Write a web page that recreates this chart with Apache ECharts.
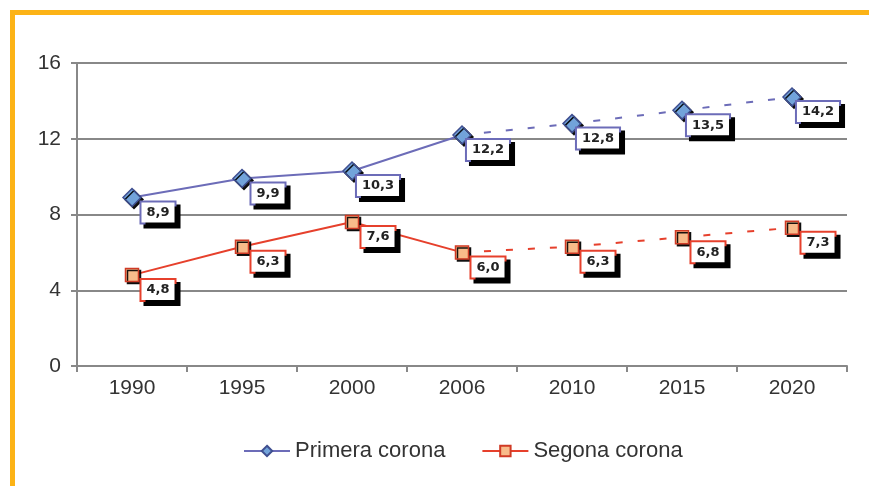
<!DOCTYPE html>
<html><head><meta charset="utf-8">
<script src="https://cdn.jsdelivr.net/npm/echarts@6/dist/echarts.min.js"></script>
<style>html,body{margin:0;padding:0;background:#fff}#c{width:869px;height:486px}</style>
</head><body><div id="c"></div>
<script>
const categories = ['1990','1995','2000','2006','2010','2015','2020'];
const primera = [8.9, 9.9, 10.3, 12.2, 12.8, 13.5, 14.2];
const segona = [4.8, 6.3, 7.6, 6.0, 6.3, 6.8, 7.3];
const labelsPrimera = ['8,9','9,9','10,3','12,2','12,8','13,5','14,2'];
const labelsSegona = ['4,8','6,3','7,6','6,0','6,3','6,8','7,3'];
const splitIndex = 3; // last solid point
const yTicks = [0, 4, 8, 12, 16];

function solidPart(vals, labs){
  return vals.map((v,i)=> i<=splitIndex ? {value:v, lab:labs[i]} : '-');
}
function dashedPart(vals, labs){
  return vals.map((v,i)=> {
    if(i<splitIndex) return '-';
    if(i===splitIndex) return {value:v, symbol:'none', label:{show:false}};
    return {value:v, lab:labs[i]};
  });
}
const BLUE='#6c6cb8', RED='#e6402c';
function labelCfg(border){
  return {show:true, position:'inside', offset:[26,15],
    formatter:p=>p.data && p.data.lab ? p.data.lab : '',
    fontFamily:'DejaVu Sans', fontWeight:'bold', fontSize:13, color:'#222',
    backgroundColor:'#fff', borderColor:border, borderWidth:2, padding:[4,5,3,5],
    shadowColor:'#000', shadowOffsetX:4, shadowOffsetY:4, shadowBlur:0};
}
function series(name, data, color, dashed, symbol, fill, size){
  return {name, type:'line', data, connectNulls:false, symbol, symbolSize:size,
    lineStyle:{color, width:2, type: dashed?[7,15]:'solid'},
    itemStyle:{color:fill, borderColor: color==BLUE?'#3f4f90':'#d03a25', borderWidth:1.5,
      shadowColor:'rgba(0,0,0,0.9)', shadowOffsetX:2, shadowOffsetY:2, shadowBlur:0},
    label:labelCfg(color), z: dashed?2:3, animation:false};
}
const chart = echarts.init(document.getElementById('c'));
chart.setOption({
  animation:false,
  backgroundColor:'#fff',
  graphic:[
    {type:'rect', shape:{x:10,y:10,width:859,height:5}, style:{fill:'#fcb316'}},
    {type:'rect', shape:{x:10,y:10,width:5,height:476}, style:{fill:'#fcb316'}}
  ],
  grid:{left:77, right:22, top:63, bottom:120},
  legend:{data:['Primera corona','Segona corona'], top:435, left:238, itemWidth:46, itemHeight:13, itemGap:36,
    textStyle:{fontFamily:'Liberation Sans', fontSize:22, color:'#333'}},
  xAxis:{type:'category', data:categories, boundaryGap:true,
    axisLine:{lineStyle:{color:'#888', width:2}},
    axisTick:{show:true, inside:false, length:6, lineStyle:{color:'#888', width:2}},
    axisLabel:{fontFamily:'Liberation Sans', fontSize:21, color:'#333', margin:12}},
  yAxis:{type:'value', min:yTicks[0], max:yTicks[yTicks.length-1], interval:4,
    axisLine:{show:true, lineStyle:{color:'#888', width:2}},
    axisTick:{show:true, length:6, lineStyle:{color:'#888', width:2}},
    splitLine:{lineStyle:{color:'#888', width:2}},
    axisLabel:{fontFamily:'Liberation Sans', fontSize:21, color:'#333', margin:16}},
  series:[
    series('Primera corona', solidPart(primera, labelsPrimera), BLUE, false, 'diamond', '#72a3da', 18),
    series('Primera corona', dashedPart(primera, labelsPrimera), BLUE, true, 'diamond', '#72a3da', 18),
    series('Segona corona', solidPart(segona, labelsSegona), RED, false, 'rect', '#f8bb8a', 13),
    series('Segona corona', dashedPart(segona, labelsSegona), RED, true, 'rect', '#f8bb8a', 13)
  ]
});
</script></body></html>
